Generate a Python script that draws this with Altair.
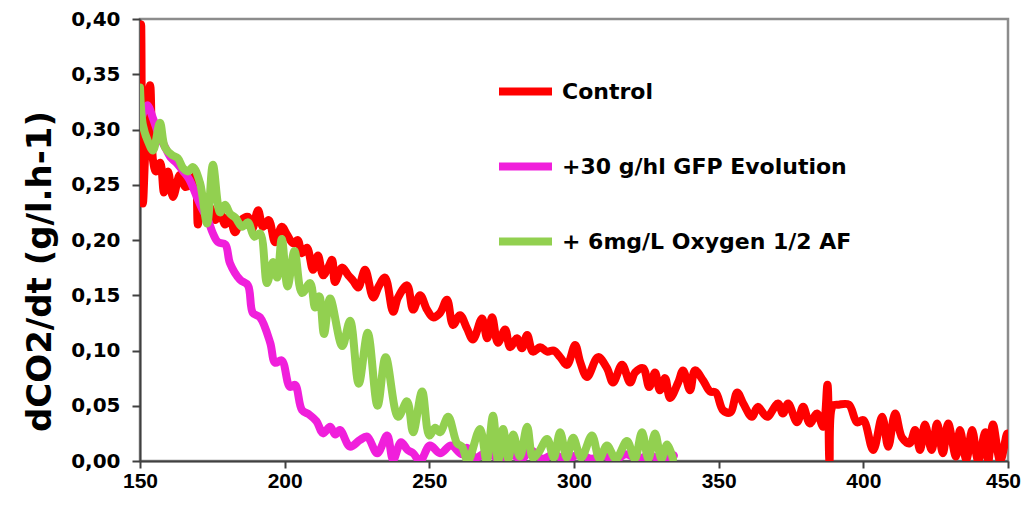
import altair as alt
import pandas as pd

series_names = ["Control", "+30 g/hl GFP Evolution", "+ 6mg/L Oxygen 1/2 AF"]
series_colors = ["#FF0000", "#F01FDB", "#92D050"]

ctrl_x = [150.0, 150.4, 151.0, 152.0, 153.5, 154.5, 155.5, 157.0, 158.3, 159.7,
          161.4, 163.8, 165.6, 167.3, 169.0, 170.0, 171.0, 172.5, 174.0, 176.0,
          177.5, 179.4, 181.0, 182.8, 185.0, 187.3, 188.8, 190.8, 192.5, 194.5,
          196.7, 199.0, 200.8, 202.9, 204.5, 206.0, 207.7, 209.8, 211.5, 213.3,
          215.0, 216.4, 217.4, 219.8, 222.0, 223.7, 225.4, 227.8, 230.6, 232.5,
          234.7, 237.5, 239.2, 242.3, 244.4, 246.8, 249.2, 251.3, 253.7, 256.1,
          258.2, 260.6, 263.0, 265.1, 268.2, 270.0, 271.7, 273.7, 276.2, 277.9,
          280.3, 282.0, 283.8, 285.8, 288.3, 290.7, 293.0, 295.2, 297.6, 300.4,
          302.1, 304.5, 308.3, 311.4, 313.5, 316.6, 319.4, 321.1, 323.9, 326.0,
          328.0, 329.7, 331.5, 333.2, 336.0, 337.7, 340.1, 341.8, 344.6, 347.0,
          349.0, 351.5, 354.0, 356.4, 358.5, 361.5, 363.5, 366.7, 370.5, 372.2,
          374.0, 377.1, 379.2, 381.5, 384.0, 386.1, 387.6, 388.3, 389.5, 391.5,
          395.0, 397.8, 400.0, 403.4, 406.5, 408.6, 411.0, 413.4, 416.0, 417.9,
          419.6, 421.3, 423.6, 425.5, 427.5, 429.3, 432.0, 433.4, 435.6, 437.6,
          439.7, 442.1, 443.2, 444.8, 447.3, 449.7, 450.0]
ctrl_y = [0.300, 0.395, 0.233, 0.290, 0.340, 0.272, 0.262, 0.270, 0.243, 0.262,
          0.239, 0.259, 0.248, 0.250, 0.258, 0.214, 0.238, 0.222, 0.230, 0.218,
          0.226, 0.214, 0.222, 0.207, 0.218, 0.221, 0.210, 0.227, 0.212, 0.218,
          0.198, 0.212, 0.205, 0.197, 0.200, 0.188, 0.193, 0.173, 0.186, 0.168,
          0.175, 0.182, 0.162, 0.175, 0.168, 0.163, 0.157, 0.173, 0.148, 0.158,
          0.166, 0.135, 0.148, 0.159, 0.137, 0.150, 0.137, 0.130, 0.134, 0.146,
          0.123, 0.132, 0.120, 0.110, 0.129, 0.111, 0.130, 0.107, 0.119, 0.103,
          0.111, 0.102, 0.114, 0.099, 0.103, 0.099, 0.100, 0.094, 0.087, 0.105,
          0.090, 0.076, 0.094, 0.084, 0.071, 0.087, 0.071, 0.080, 0.084, 0.067,
          0.080, 0.064, 0.075, 0.057, 0.071, 0.082, 0.064, 0.082, 0.073, 0.063,
          0.062, 0.046, 0.044, 0.062, 0.052, 0.040, 0.049, 0.040, 0.052, 0.043,
          0.052, 0.035, 0.049, 0.034, 0.043, 0.031, 0.069, 0.000, 0.050, 0.051,
          0.051, 0.035, 0.037, 0.010, 0.040, 0.013, 0.043, 0.021, 0.016, 0.028,
          0.010, 0.033, 0.010, 0.034, 0.007, 0.034, 0.004, 0.028, 0.001, 0.028,
          0.000, 0.026, 0.000, 0.033, 0.000, 0.025, 0.022]

gfp_x = [150.5, 152.5, 154.5, 156.5, 158.5, 160.5, 162.5, 165.0, 167.0, 169.5,
         171.5, 173.5, 175.2, 177.0, 179.5, 181.1, 184.6, 187.3, 189.0, 191.5,
         195.0, 196.7, 199.0, 201.8, 203.6, 206.0, 208.5, 211.0, 213.3, 215.7,
         217.5, 219.1, 222.6, 226.0, 228.5, 232.0, 235.4, 237.5, 240.2, 242.5,
         244.4, 246.8, 250.2, 253.7, 257.5, 261.3, 263.0, 266.0, 270.0, 274.0,
         278.0, 282.0, 285.0, 289.0, 293.0, 297.0, 302.0, 306.0, 310.0, 314.0,
         318.0, 322.0, 326.0, 330.0, 334.5]
gfp_y = [0.310, 0.322, 0.310, 0.295, 0.285, 0.275, 0.270, 0.262, 0.255, 0.240,
         0.228, 0.218, 0.206, 0.198, 0.196, 0.179, 0.164, 0.159, 0.134, 0.130,
         0.107, 0.089, 0.091, 0.067, 0.069, 0.046, 0.042, 0.036, 0.025, 0.031,
         0.024, 0.028, 0.013, 0.019, 0.022, 0.007, 0.023, 0.001, 0.017, 0.010,
         0.007, 0.000, 0.014, 0.007, 0.014, 0.006, 0.012, 0.003, 0.008, 0.002,
         0.006, 0.002, 0.010, 0.002, 0.006, 0.001, 0.006, 0.002, 0.005, 0.001,
         0.006, 0.002, 0.005, 0.002, 0.005]

oxy_x = [150.0, 151.0, 152.8, 154.5, 156.9, 158.6, 161.0, 163.1, 164.9, 166.6,
         168.3, 170.7, 173.2, 175.2, 177.7, 179.4, 181.1, 183.0, 185.3, 187.3,
         189.5, 191.5, 193.9, 196.0, 197.4, 199.0, 201.0, 203.4, 206.0, 208.8,
         210.5, 212.0, 213.6, 215.7, 219.9, 222.6, 225.6, 228.7, 232.1, 234.9,
         239.2, 242.3, 244.4, 247.5, 250.0, 252.0, 253.7, 256.5, 259.6, 261.3,
         263.3, 267.5, 269.8, 272.0, 273.8, 275.5, 277.3, 279.0, 281.3, 283.8,
         285.8, 287.8, 290.7, 293.0, 295.2, 297.5, 299.7, 302.5, 306.2, 308.8,
         311.4, 314.5, 318.3, 321.0, 323.5, 325.7, 328.0, 330.2, 332.2, 334.2]
oxy_y = [0.338, 0.304, 0.289, 0.281, 0.306, 0.284, 0.277, 0.274, 0.265, 0.262,
         0.266, 0.252, 0.215, 0.268, 0.225, 0.232, 0.224, 0.220, 0.212, 0.216,
         0.203, 0.206, 0.161, 0.180, 0.166, 0.201, 0.158, 0.190, 0.152, 0.161,
         0.139, 0.149, 0.115, 0.147, 0.104, 0.127, 0.070, 0.116, 0.050, 0.094,
         0.040, 0.054, 0.026, 0.063, 0.023, 0.030, 0.026, 0.040, 0.016, 0.013,
         0.000, 0.029, 0.000, 0.041, 0.000, 0.029, 0.002, 0.024, 0.004, 0.031,
         0.003, 0.008, 0.020, 0.003, 0.026, 0.003, 0.021, 0.003, 0.023, 0.002,
         0.014, 0.002, 0.018, 0.002, 0.026, 0.002, 0.025, 0.002, 0.015, 0.002]

x_ticks = [150, 200, 250, 300, 350, 400, 450]
y_ticks = [0.0, 0.05, 0.10, 0.15, 0.20, 0.25, 0.30, 0.35, 0.40]

assert len(ctrl_x) == len(ctrl_y)
assert len(gfp_x) == len(gfp_y)
assert len(oxy_x) == len(oxy_y)

frames = []
for name, xs, ys in zip(series_names, [ctrl_x, gfp_x, oxy_x], [ctrl_y, gfp_y, oxy_y]):
    frames.append(pd.DataFrame({"t": xs, "v": ys, "series": name, "idx": range(len(xs))}))
df = pd.concat(frames, ignore_index=True)

color = alt.Color(
    "series:N",
    scale=alt.Scale(domain=series_names, range=series_colors),
    sort=series_names,
    legend=alt.Legend(
        orient="none", legendX=355, legendY=42, title=None,
        symbolType="stroke", symbolSize=2809, symbolStrokeWidth=8,
        labelFont="DejaVu Sans", labelFontSize=22, labelFontWeight="bold",
        labelColor="black", labelOffset=6, rowPadding=28, padding=0,
        labelLimit=600,
    ),
)

x_enc = alt.X(
    "t:Q",
    scale=alt.Scale(domain=[150, 450], nice=False, zero=False),
    axis=alt.Axis(
        values=x_ticks, format="d", grid=False, title=None,
        labelFont="Liberation Sans", labelFontSize=21, labelFontWeight="bold",
        labelColor="black", labelPadding=2, tickSize=7, tickWidth=2,
        tickColor="#404040", domainColor="#404040", domainWidth=2,
        labelFlush=False,
        labelOffset={"condition": {"test": "datum.value == 450", "value": -5}, "value": 0},
    ),
)
y_enc = alt.Y(
    "v:Q",
    scale=alt.Scale(domain=[0, 0.4], nice=False),
    axis=alt.Axis(
        values=y_ticks, grid=False,
        labelExpr="replace(format(datum.value, '.2f'), '.', ',')",
        labelFont="DejaVu Sans", labelFontSize=20, labelFontWeight="bold",
        labelColor="black", labelPadding=12, tickSize=8, tickWidth=2,
        tickColor="#404040", domainColor="#404040", domainWidth=2,
        title="dCO2/dt (g/l.h-1)", titleFont="DejaVu Sans", titleFontSize=34,
        titleFontWeight="bold", titleColor="black",
        titleX=-83, titleY=252,
    ),
)

base = alt.Chart(df).mark_line(
    strokeWidth=8, interpolate="catmull-rom", strokeCap="round",
    strokeJoin="round", clip=True,
).encode(x=x_enc, y=y_enc, color=color, order="idx:Q")

layers = [base.transform_filter(alt.datum.series == s) for s in series_names]

chart = alt.layer(*layers).properties(
    width=868, height=442,
    padding={"left": 132, "top": 11, "right": 14, "bottom": 30},
    autosize=alt.AutoSizeParams(type="none"),
).configure_view(stroke="#8c8c8c", strokeWidth=2.5)

chart.save("out.html", embed_options={"renderer": "svg", "actions": False})
